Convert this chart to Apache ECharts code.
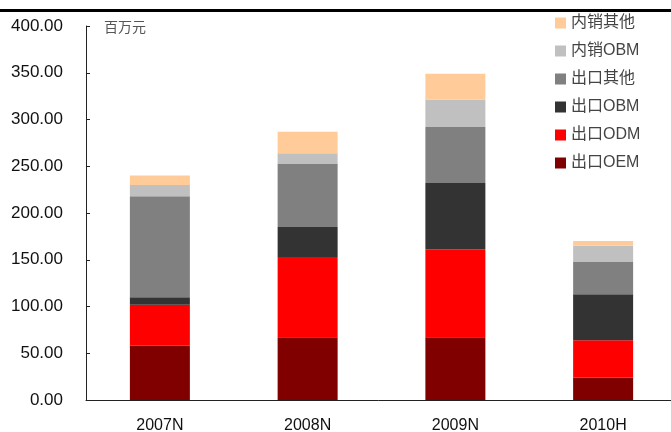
<!DOCTYPE html>
<html>
<head>
<meta charset="utf-8">
<script src="https://cdn.jsdelivr.net/npm/echarts@6/dist/echarts.min.js"></script>
<style>
  html, body { margin: 0; padding: 0; background: #fff; }
  #chart { width: 671px; height: 432px; }
</style>
</head>
<body>
<div id="chart"></div>
<script>
var years = ['2007N', '2008N', '2009N', '2010H'];
var yTicks = [0, 50, 100, 150, 200, 250, 300, 350, 400];

// 百万元，从下往上堆叠
var oem = [58, 67, 67, 24];        // 出口OEM
var odm = [44, 86, 94, 40];        // 出口ODM
var obm = [8, 32, 71, 49];         // 出口OBM
var expOther = [108, 68, 60, 35];  // 出口其他
var domObm = [12, 11, 29, 17];     // 内销OBM
var domOther = [10, 23, 28, 5];    // 内销其他

var names = ['出口OEM', '出口ODM', '出口OBM', '出口其他', '内销OBM', '内销其他'];
var values = [oem, odm, obm, expOther, domObm, domOther];
var colors = ['#800000', '#ff0000', '#333333', '#808080', '#c0c0c0', '#ffcc99'];

(function () {
    var mychart = echarts.init(document.getElementById('chart'));

    var series = names.map(function (n, i) {
        return {
            name: n,
            type: 'bar',
            stack: 'total',
            barWidth: 60,
            data: values[i],
            itemStyle: { color: colors[i] }
        };
    });

    var option = {
        animation: false,
        textStyle: { fontFamily: 'Liberation Sans, Arial, sans-serif' },
        grid: {
            left: 86,
            right: -6,
            top: 26,
            bottom: 32,
            outerBoundsMode: 'none'
        },
        legend: {
            orient: 'vertical',
            left: 550,
            top: 10,
            icon: 'rect',
            itemWidth: 11,
            itemHeight: 11,
            itemGap: 12,
            // 倒序显示
            data: names.slice().reverse(),
            textStyle: {
                color: '#444',
                fontSize: 16,
                padding: [0, 0, 0, 0],
                fontFamily: 'Liberation Sans, "Noto Sans CJK SC", sans-serif'
            }
        },
        xAxis: {
            type: 'category',
            data: years,
            axisLine: { lineStyle: { color: '#222', width: 1 } },
            axisTick: { inside: true, length: 5, lineStyle: { color: '#222' } },
            axisLabel: { color: '#111', fontSize: 16, margin: 18 }
        },
        yAxis: {
            type: 'value',
            min: yTicks[0],
            max: yTicks[yTicks.length - 1],
            interval: 50,
            axisLine: { show: true, lineStyle: { color: '#222', width: 1 } },
            axisTick: { show: true, inside: true, length: 4, lineStyle: { color: '#222' } },
            splitLine: { show: false },
            axisLabel: {
                color: '#111',
                fontSize: 17,
                margin: 23,
                formatter: function (v) { return v.toFixed(2); }
            }
        },
        graphic: [
            {
                type: 'rect',
                left: 0,
                top: 9,
                shape: { width: 671, height: 3 },
                style: { fill: '#000' }
            },
            {
                type: 'text',
                left: 104,
                top: 20,
                style: {
                    text: '百万元',
                    fill: '#555',
                    font: '14px "Noto Sans CJK SC", sans-serif'
                }
            }
        ],
        series: series
    };
    mychart.setOption(option);
    window.addEventListener('resize', function () {
        mychart.resize();
    });
})();
</script>
</body>
</html>
